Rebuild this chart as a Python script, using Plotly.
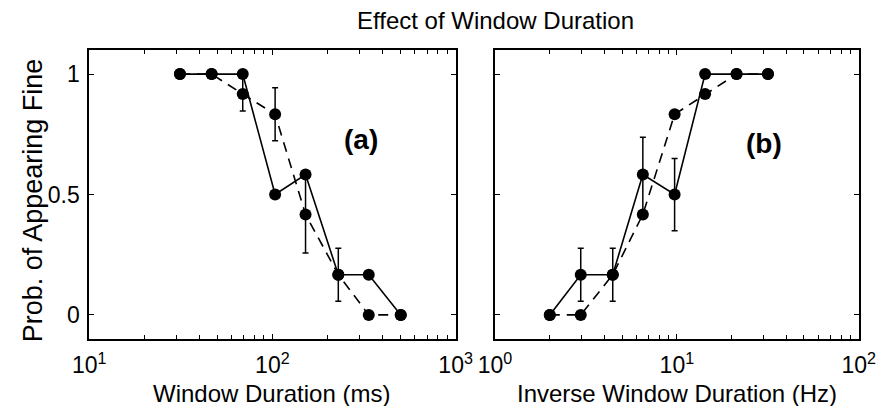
import plotly.graph_objects as go
import math

# ---- data ----
duration_ms = [31.3, 46.6, 68.9, 103.5, 151.7, 229, 335.7, 502]
solid_a = [1, 1, 1, 0.5, 0.583, 0.167, 0.167, 0]
dashed_a = [1, 1, 0.917, 0.833, 0.417, 0.167, 0, 0]
err_dashed_a = [math.nan, math.nan, 0.07, 0.11, 0.16, 0.11, math.nan, math.nan]

inv_duration_hz = [2.0, 2.96, 4.44, 6.5, 9.72, 14.3, 21.3, 31.7]
solid_b = [0, 0.167, 0.167, 0.583, 0.5, 1, 1, 1]
dashed_b = [0, 0, 0.167, 0.417, 0.833, 0.917, 1, 1]
err_solid_b = [math.nan, 0.11, 0.11, 0.155, 0.15, math.nan, math.nan, math.nan]

y_ticks = [0, 0.5, 1]
y_ticktext = ["0", "0.5", "1"]
xa_ticks = [10, 100, 1000]
xa_ticktext = ["10<sup>1</sup>", "10<sup>2</sup>", "10<sup>3</sup>"]
xb_ticks = [1, 10, 100]
xb_ticktext = ["10<sup>0</sup>", "10<sup>1</sup>", "10<sup>2</sup>"]
xa_minor = [20, 30, 40, 50, 60, 70, 80, 90, 200, 300, 400, 500, 600, 700, 800, 900]
xb_minor = [2, 3, 4, 5, 6, 7, 8, 9, 20, 30, 40, 50, 60, 70, 80, 90]

FONT = "Liberation Sans, Arial, Helvetica, sans-serif"
W, H = 892, 406

fig = go.Figure()

mk = dict(color="black", size=12)
errstyle = dict(type="data", visible=True, color="black", thickness=1.5, width=3)
LW = 1.6

# panel (a)
fig.add_trace(go.Scatter(x=duration_ms, y=dashed_a, mode="lines+markers",
                         line=dict(color="black", width=LW, dash="10px,7px"),
                         marker=mk, error_y=dict(array=err_dashed_a, **errstyle),
                         xaxis="x", yaxis="y", showlegend=False))
fig.add_trace(go.Scatter(x=duration_ms, y=solid_a, mode="lines+markers",
                         line=dict(color="black", width=LW),
                         marker=mk, xaxis="x", yaxis="y", showlegend=False))
# panel (b)
fig.add_trace(go.Scatter(x=inv_duration_hz, y=dashed_b, mode="lines+markers",
                         line=dict(color="black", width=LW, dash="10px,7px"),
                         marker=mk, xaxis="x2", yaxis="y2", showlegend=False))
fig.add_trace(go.Scatter(x=inv_duration_hz, y=solid_b, mode="lines+markers",
                         line=dict(color="black", width=LW),
                         marker=mk, error_y=dict(array=err_solid_b, **errstyle),
                         xaxis="x2", yaxis="y2", showlegend=False))

axbase = dict(showline=True, linecolor="black", linewidth=1.6, mirror="ticks",
              ticks="inside", ticklen=5, tickwidth=1.2, tickcolor="black",
              showgrid=False, zeroline=False,
              tickfont=dict(family=FONT, size=23, color="black"))

ydom = [1 - 339 / H, 1 - 50 / H]
minor_a = dict(tickmode="array", tickvals=xa_minor, ticks="inside",
               ticklen=4, tickwidth=1, tickcolor="black", showgrid=False)
minor_b = dict(tickmode="array", tickvals=xb_minor, ticks="inside",
               ticklen=4, tickwidth=1, tickcolor="black", showgrid=False)

fig.update_layout(
    width=W, height=H,
    margin=dict(l=0, r=0, t=0, b=0),
    paper_bgcolor="white", plot_bgcolor="white",
    font=dict(family=FONT, color="black"),
    xaxis=dict(type="log", range=[1, 3], domain=[75 / W, 456 / W],
               tickmode="array", tickvals=xa_ticks, ticktext=xa_ticktext,
               minor=minor_a, ticklabelstandoff=5, anchor="y", **axbase),
    yaxis=dict(range=[-0.1, 1.1], domain=ydom, tickmode="array",
               tickvals=y_ticks, ticktext=y_ticktext, anchor="x",
               ticklabelstandoff=3, **axbase),
    xaxis2=dict(type="log", range=[0, 2], domain=[497 / W, 875 / W],
                tickmode="array", tickvals=xb_ticks, ticktext=xb_ticktext,
                minor=minor_b, ticklabelstandoff=5, anchor="y2", **axbase),
    yaxis2=dict(range=[-0.1, 1.1], domain=ydom, tickmode="array",
                tickvals=y_ticks, showticklabels=False, anchor="x2", **axbase),
)

ann = []
ann.append(dict(text="Effect of Window Duration", x=497 / W, y=1 - 21 / H,
                xref="paper", yref="paper", showarrow=False,
                font=dict(family=FONT, size=24, color="black"),
                xanchor="center", yanchor="middle"))
ann.append(dict(text="Window Duration (ms)", x=265 / W, y=1 - 393 / H,
                xref="paper", yref="paper", showarrow=False,
                font=dict(family=FONT, size=24, color="black"),
                xanchor="center", yanchor="middle"))
ann.append(dict(text="Inverse Window Duration (Hz)", x=686 / W, y=1 - 393 / H,
                xref="paper", yref="paper", showarrow=False,
                font=dict(family=FONT, size=24, color="black"),
                xanchor="center", yanchor="middle"))
ann.append(dict(text="Prob. of Appearing Fine", x=17 / W, y=1 - 200 / H,
                xref="paper", yref="paper", showarrow=False, textangle=-90,
                font=dict(family=FONT, size=27, color="black"),
                xanchor="center", yanchor="middle"))
ann.append(dict(text="<b>(a)</b>", x=0.743, y=0.689, xref="x domain",
                yref="y domain", showarrow=False,
                font=dict(family=FONT, size=28, color="black"),
                xanchor="center", yanchor="middle"))
ann.append(dict(text="<b>(b)</b>", x=0.741, y=0.678, xref="x2 domain",
                yref="y2 domain", showarrow=False,
                font=dict(family=FONT, size=28, color="black"),
                xanchor="center", yanchor="middle"))
fig.update_layout(annotations=ann)

fig.write_html("out.html")
